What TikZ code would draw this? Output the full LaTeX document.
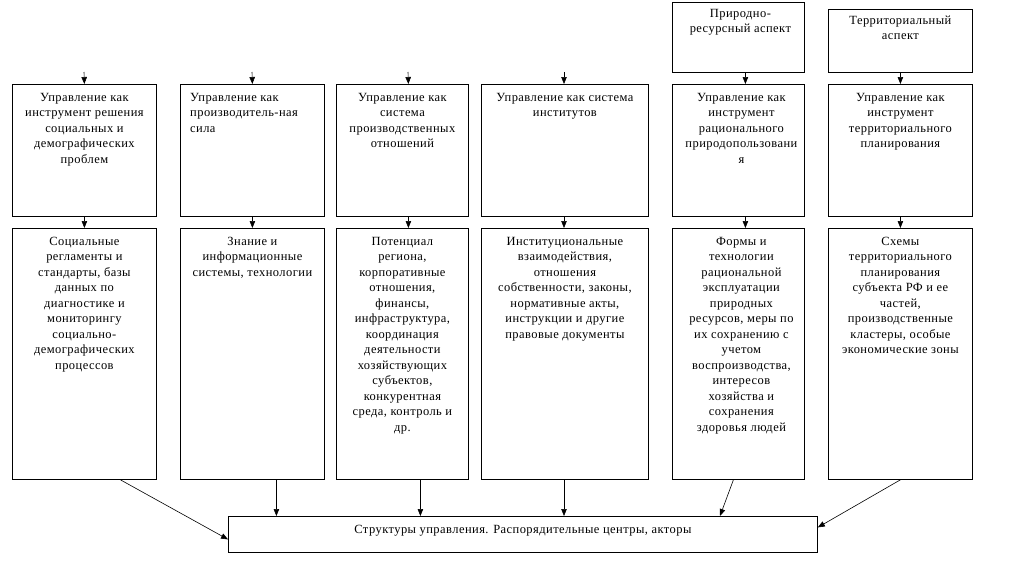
\documentclass[tikz,border=0pt]{standalone}
\usepackage{fontspec}
\setmainfont{Liberation Serif}[LetterSpace=3.5]
\usetikzlibrary{calc,arrows.meta}
\begin{document}
\begin{tikzpicture}[x=1pt,y=-1pt,
  box/.style={draw, line width=0.8pt, anchor=north west, inner sep=0pt},
  txt/.style={inner sep=0pt, align=center, anchor=north, font=\fontsize{12.5}{15.5}\selectfont},
  arr/.style={-{Triangle[length=7pt,width=5.5pt]}, line width=0.6pt}]
\useasboundingbox (0,0) rectangle (1009,566);
% top boxes
\node[box, minimum width=132, minimum height=70] (p5) at (672,2) {};
\node[box, minimum width=144, minimum height=63] (p6) at (828,9) {};
% middle boxes
\node[box, minimum width=144, minimum height=132] (m1) at (12,84) {};
\node[box, minimum width=144, minimum height=132] (m2) at (180,84) {};
\node[box, minimum width=132, minimum height=132] (m3) at (336,84) {};
\node[box, minimum width=167, minimum height=132] (m4) at (481,84) {};
\node[box, minimum width=132, minimum height=132] (m5) at (672,84) {};
\node[box, minimum width=144, minimum height=132] (m6) at (828,84) {};
% lower boxes
\node[box, minimum width=144, minimum height=251] (l1) at (12,228) {};
\node[box, minimum width=144, minimum height=251] (l2) at (180,228) {};
\node[box, minimum width=132, minimum height=251] (l3) at (336,228) {};
\node[box, minimum width=167, minimum height=251] (l4) at (481,228) {};
\node[box, minimum width=132, minimum height=251] (l5) at (672,228) {};
\node[box, minimum width=144, minimum height=251] (l6) at (828,228) {};
% bottom box
\node[box, minimum width=589, minimum height=36] (b) at (228,516) {};

% texts
\node[txt] (p5t) at ($(p5.north)+(2,4)$) {\strut Природно-\\ресурсный аспект};
\node[txt] (p6t) at ($(p6.north)+(0,4)$) {\strut Территориальный\\аспект};

\node[txt] (m1t) at ($(m1.north)+(0,6)$) {\strut Управление как\\инструмент решения\\социальных и\\демографических\\проблем};
\node[txt, align=left, anchor=north west] (m2t) at ($(m2.north west)+(10,6)$) {\strut Управление как\\производитель-ная\\сила};
\node[txt] (m3t) at ($(m3.north)+(0,6)$) {\strut Управление как\\система\\производственных\\отношений};
\node[txt] (m4t) at ($(m4.north)+(0,6)$) {\strut Управление как система\\институтов};
\node[txt] (m5t) at ($(m5.north)+(3,6)$) {\strut Управление как\\инструмент\\рационального\\природопользовани\\я};
\node[txt] (m6t) at ($(m6.north)+(0,6)$) {\strut Управление как\\инструмент\\территориального\\планирования};

\node[txt] (l1t) at ($(l1.north)+(0,6)$) {\strut Социальные\\регламенты и\\стандарты, базы\\данных по\\диагностике и\\мониторингу\\социально-\\демографических\\процессов};
\node[txt] (l2t) at ($(l2.north)+(0,6)$) {\strut Знание и\\информационные\\системы, технологии};
\node[txt] (l3t) at ($(l3.north)+(0,6)$) {\strut Потенциал\\региона,\\корпоративные\\отношения,\\финансы,\\инфраструктура,\\координация\\деятельности\\хозяйствующих\\субъектов,\\конкурентная\\среда, контроль и\\др.};
\node[txt] (l4t) at ($(l4.north)+(0,6)$) {\strut Институциональные\\взаимодействия,\\отношения\\собственности, законы,\\нормативные акты,\\инструкции и другие\\правовые документы};
\node[txt] (l5t) at ($(l5.north)+(3,6)$) {\strut Формы и\\технологии\\рациональной\\эксплуатации\\природных\\ресурсов, меры по\\их сохранению с\\учетом\\воспроизводства,\\интересов\\хозяйства и\\сохранения\\здоровья людей};
\node[txt] (l6t) at ($(l6.north)+(0,6)$) {\strut Схемы\\территориального\\планирования\\субъекта РФ и ее\\частей,\\производственные\\кластеры, особые\\экономические зоны};

\node[txt, anchor=center] (bt) at ($(b.center)+(0,-4)$) {Структуры управления. Распорядительные центры, акторы};

% connector end points
\coordinate (t1) at (84,72);
\coordinate (t2) at (252,72);
\coordinate (t3) at (408,72);
\coordinate (t4) at (564,72);
\coordinate (m3n) at ($(m3.north)+(6,0)$);
\coordinate (m3s) at ($(m3.south)+(6,0)$);
\coordinate (l3n) at ($(l3.north)+(6,0)$);
\coordinate (m4n) at (t4 |- m4.north);
\coordinate (m4s) at (t4 |- m4.south);
\coordinate (l4n) at (t4 |- l4.north);
\coordinate (l4s) at (t4 |- l4.south);
\coordinate (b4) at (t4 |- b.north);
\coordinate (p5s) at ($(p5.south)+(7,0)$);
\coordinate (m5n) at ($(m5.north)+(7,0)$);
\coordinate (m5s) at ($(m5.south)+(7,0)$);
\coordinate (l5n) at ($(l5.north)+(7,0)$);
\coordinate (l1s) at ($(l1.south)+(36,0)$);
\coordinate (bw) at ($(b.west)+(0,5)$);
\coordinate (l2s) at ($(l2.south)+(24,0)$);
\coordinate (b2) at (l2s |- b.north);
\coordinate (l3s) at ($(l3.south)+(18,0)$);
\coordinate (b3) at (l3s |- b.north);
\coordinate (l5s) at ($(l5.south)+(-5,0)$);
\coordinate (b5) at ($(b.north west)+(492,0)$);
\coordinate (be) at ($(b.east)+(0,-7)$);

% top arrows
\draw[arr] (t1) -- (m1.north);
\draw[arr] (t2) -- (m2.north);
\draw[arr] (t3) -- (m3n);
\draw[arr] (t4) -- (m4n);
\draw[arr] (p5s) -- (m5n);
\draw[arr] (p6.south) -- (m6.north);
% middle to lower
\draw[arr] (m1.south) -- (l1.north);
\draw[arr] (m2.south) -- (l2.north);
\draw[arr] (m3s) -- (l3n);
\draw[arr] (m4s) -- (l4n);
\draw[arr] (m5s) -- (l5n);
\draw[arr] (m6.south) -- (l6.north);
% lower to bottom
\draw[arr] (l1s) -- (bw);
\draw[arr] (l2s) -- (b2);
\draw[arr] (l3s) -- (b3);
\draw[arr] (l4s) -- (b4);
\draw[arr] (l5s) -- (b5);
\draw[arr] (l6.south) -- (be);
\end{tikzpicture}
\end{document}
